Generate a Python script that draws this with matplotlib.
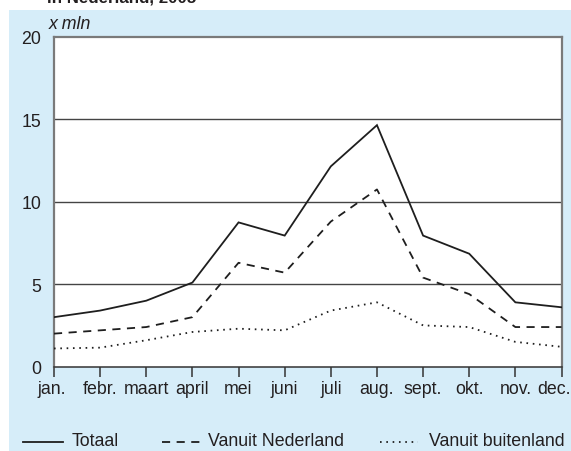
import matplotlib
matplotlib.use("Agg")
import matplotlib.pyplot as plt
import matplotlib.transforms as mtransforms
from matplotlib.lines import Line2D
from matplotlib.patches import Rectangle

months = ["jan.", "febr.", "maart", "april", "mei", "juni", "juli", "aug.",
          "sept.", "okt.", "nov.", "dec."]
totaal = [3.0, 3.4, 4.0, 5.1, 8.75, 7.95, 12.15, 14.65, 7.95, 6.85, 3.9, 3.6]
nederland = [2.0, 2.2, 2.4, 3.0, 6.3, 5.7, 8.8, 10.75, 5.4, 4.4, 2.4, 2.4]
buitenland = [1.1, 1.15, 1.6, 2.1, 2.3, 2.2, 3.4, 3.9, 2.5, 2.4, 1.5, 1.2]
yticks = [0, 5, 10, 15, 20]
series_labels = ["Totaal", "Vanuit Nederland", "Vanuit buitenland"]

plt.rcParams['font.family'] = ['Liberation Sans', 'DejaVu Sans']
W, H = 571, 452
fig = plt.figure(figsize=(W / 100, H / 100), dpi=100)
fig.patch.set_facecolor("white")
bg = "#d6edf9"
txt = "#231f20"
fs = 12.8
fig.patches.append(Rectangle((9 / W, 0), 1 - 9 / W, (H - 11) / H,
                             transform=fig.transFigure, facecolor=bg,
                             edgecolor="none", zorder=-10))

fig.text(47 / W, 1 - 2.5 / H, "in Nederland, 2005", fontsize=12.2,
         fontweight="bold", color=txt, ha="left", va="baseline")

ax = fig.add_axes([54 / W, (H - 367.6) / H, (561.5 - 54) / W, (367.6 - 38) / H])
ax.set_facecolor("white")
x = list(range(len(months)))
lc = "#1e1e1e"
ax.plot(x, totaal, color=lc, lw=1.3, solid_joinstyle="miter", zorder=3)
ax.plot(x, nederland, color=lc, lw=1.3, linestyle=(0, (4.5, 3.6)), zorder=3)
ax.plot(x, buitenland, color=lc, lw=1.3, linestyle=(0, (0.9, 2.6)), zorder=3)

ax.set_xlim(0, 11)
ax.set_ylim(0, 20)
ax.set_xticks(x)
ax.set_xticklabels(months, fontsize=fs, color=txt)
ax.set_yticks(yticks)
ax.set_yticklabels([str(v) for v in yticks], fontsize=fs, color=txt)
ax.tick_params(axis="y", length=0, pad=9)
ax.tick_params(axis="x", length=7, width=1.1, color="#333333", pad=3)
labels = ax.get_xticklabels()
labels[-1].set_transform(labels[-1].get_transform() +
                         mtransforms.ScaledTranslation(-8 / 100, 0, fig.dpi_scale_trans))
labels[0].set_transform(labels[0].get_transform() +
                        mtransforms.ScaledTranslation(-2 / 100, 0, fig.dpi_scale_trans))
for v in yticks[1:4]:
    ax.axhline(v, color="#444444", lw=1.0, zorder=1)
for s in ["top", "right", "left"]:
    ax.spines[s].set_color("#7a7a7a")
    ax.spines[s].set_linewidth(1.6)
ax.spines["bottom"].set_color("#333333")
ax.spines["bottom"].set_linewidth(1.1)

ax.text(-0.01, 1.015, "x mln", transform=ax.transAxes, fontsize=fs,
        style="italic", color=txt, ha="left", va="bottom")

# legend
ly = 1 - 443 / H
ty = 1 - 446 / H
styles = ["-", (0, (4.5, 3.6)), (0, (0.9, 2.6))]
hx = [(23, 63), (162, 200), (380, 418)]
tx = [72, 208, 429]
for (x0, x1), st, t, lab in zip(hx, styles, tx, series_labels):
    fig.lines.append(Line2D([x0 / W, x1 / W], [ly, ly], transform=fig.transFigure,
                            color=lc, lw=1.3, linestyle=st))
    fig.text(t / W, ty, lab, fontsize=fs, color=txt, ha="left", va="baseline")

fig.savefig("out.png", dpi=100)
